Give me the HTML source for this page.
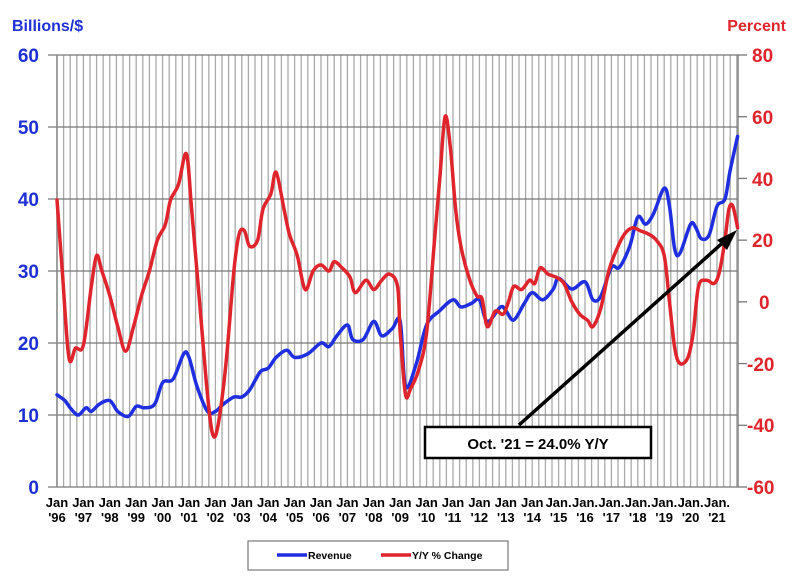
<!DOCTYPE html>
<html><head><style>
body{margin:0;background:#fff;}
svg text{font-family:"Liberation Sans",Arial,sans-serif;font-weight:bold;}
</style></head><body>
<svg id="s" width="800" height="577" xmlns="http://www.w3.org/2000/svg">
<g id="grid"></g>
<text x="12" y="31" font-size="16" fill="#1f2fd6">Billions/$</text>
<text x="786" y="31" font-size="16" fill="#e0242c" text-anchor="end">Percent</text>
<g font-size="19" fill="#1f2fd6" text-anchor="end">
<text x="39" y="62">60</text><text x="39" y="134">50</text><text x="39" y="206">40</text><text x="39" y="278">30</text><text x="39" y="350">20</text><text x="39" y="422">10</text><text x="39" y="494">0</text>
</g>
<g font-size="19" fill="#e0242c" text-anchor="start">
<text x="752" y="62">80</text><text x="752" y="124">60</text><text x="752" y="186">40</text><text x="752" y="247">20</text><text x="759" y="309">0</text><text x="747" y="371">-20</text><text x="747" y="432">-40</text><text x="747" y="494">-60</text>
</g>
<g id="xl" font-size="13" fill="#000" text-anchor="middle"></g>
<path id="blue" fill="none" stroke="#1f2fe0" stroke-width="3.5" stroke-linejoin="round" stroke-linecap="round"/>
<path id="red" fill="none" stroke="#e0242c" stroke-width="3.5" stroke-linejoin="round" stroke-linecap="round"/>
<line x1="519" y1="425" x2="728" y2="238" stroke="#000" stroke-width="3.5"/>
<polygon points="737,230 717,240 727,250" fill="#000"/>
<rect x="425" y="427" width="226" height="31" fill="#fff" stroke="#000" stroke-width="2.5"/>
<text x="538" y="449" font-size="15" text-anchor="middle">Oct. '21 = 24.0% Y/Y</text>
<rect x="248" y="541" width="260" height="29" fill="#fff" stroke="#777" stroke-width="1.2"/>
<line x1="277" y1="555" x2="307" y2="555" stroke="#1f2fe0" stroke-width="3.5"/>
<text x="308" y="559" font-size="10.5">Revenue</text>
<line x1="381" y1="555" x2="411" y2="555" stroke="#e0242c" stroke-width="3.5"/>
<text x="412" y="559" font-size="10.5">Y/Y % Change</text>
</svg>
<script>
function X(t){return 57+(t-1996)*26.4;}
function YL(v){return 487-v*7.2;}
function YR(p){return 55+(80-p)*3.0857;}
var g=document.getElementById('grid'),h='';
for(var i=0;i<=103;i++){var x=57+i*6.6;if(x>738)break;h+='<line x1="'+x+'" y1="55" x2="'+x+'" y2="487" stroke="#aaa" stroke-width="1.3"/>';}
for(var v=0;v<=60;v+=10){h+='<line x1="48" y1="'+YL(v)+'" x2="738" y2="'+YL(v)+'" stroke="#777" stroke-width="1.3"/>';}
h+='<line x1="57" y1="55" x2="57" y2="487" stroke="#888" stroke-width="1.5"/>';
h+='<line x1="738" y1="55" x2="738" y2="487" stroke="#888" stroke-width="1.5"/>';
for(var p=-60;p<=80;p+=20){h+='<line x1="738" y1="'+YR(p)+'" x2="747" y2="'+YR(p)+'" stroke="#777" stroke-width="1.3"/>';}
g.innerHTML=h;
var xl='';
for(var y=1996;y<=2021;y++){var lab=(y>=2015?'Jan.':'Jan'),yy="'"+String(y%100).padStart(2,'0');
xl+='<text x="'+X(y)+'" y="507">'+lab+'</text><text x="'+X(y)+'" y="522">'+yy+'</text>';}
document.getElementById('xl').innerHTML=xl;
var B=[[1996,12.8],[1996.3,12],[1996.5,11],[1996.8,10],[1997.1,11],[1997.3,10.5],[1997.6,11.5],[1998,12],[1998.3,10.5],[1998.7,9.8],[1999,11.2],[1999.3,11],[1999.7,11.5],[2000,14.5],[2000.4,15],[2000.8,18.5],[2001,18],[2001.3,14],[2001.7,10.5],[2002,10.5],[2002.3,11.5],[2002.7,12.5],[2003,12.5],[2003.3,13.5],[2003.7,16],[2004,16.5],[2004.3,18],[2004.7,19],[2005,18],[2005.5,18.5],[2006,20],[2006.3,19.5],[2006.6,21],[2007,22.5],[2007.2,20.5],[2007.6,20.5],[2008,23],[2008.3,21],[2008.7,22],[2009,23],[2009.2,14],[2009.6,17],[2010,22.5],[2010.5,24.5],[2011,26],[2011.3,25],[2011.7,25.5],[2012,26],[2012.3,23],[2012.8,25],[2013,24.5],[2013.3,23.2],[2013.7,25.5],[2014,27],[2014.4,26],[2014.8,27.5],[2015,29],[2015.5,27.5],[2016,28.5],[2016.3,26],[2016.6,26.5],[2017,30.5],[2017.3,30.5],[2017.7,33.5],[2018,37.5],[2018.3,36.5],[2018.6,38],[2019,41.5],[2019.2,39],[2019.4,33],[2019.6,32.5],[2020,36.5],[2020.2,36],[2020.4,34.5],[2020.7,35],[2021,39],[2021.3,40],[2021.5,44],[2021.78,48.7]];
var R=[[1996,33],[1996.2,10],[1996.45,-18],[1996.7,-15],[1997,-14],[1997.3,5],[1997.5,15],[1997.7,10],[1998,2],[1998.3,-8],[1998.6,-16],[1998.9,-8],[1999.2,2],[1999.5,10],[1999.8,20],[2000.1,25],[2000.3,33],[2000.6,38],[2000.9,48],[2001.1,30],[2001.4,0],[2001.7,-30],[2001.9,-43],[2002.1,-40],[2002.4,-20],[2002.7,10],[2002.9,22],[2003.1,23],[2003.3,18],[2003.6,20],[2003.8,30],[2004.1,35],[2004.3,42],[2004.6,30],[2004.8,22],[2005.1,15],[2005.4,4],[2005.7,10],[2006,12],[2006.3,10],[2006.5,13],[2006.8,11],[2007.1,8],[2007.3,3],[2007.7,7],[2008,4],[2008.3,7],[2008.6,9],[2008.9,5],[2009,-10],[2009.2,-30],[2009.4,-28],[2009.7,-22],[2010,-10],[2010.3,20],[2010.5,40],[2010.7,60],[2010.9,50],[2011.1,30],[2011.3,18],[2011.6,8],[2011.9,2],[2012.1,1],[2012.3,-8],[2012.6,-3],[2012.9,-4],[2013.1,0],[2013.3,5],[2013.6,4],[2013.9,7],[2014.1,6],[2014.3,11],[2014.6,9],[2014.9,8],[2015.2,6],[2015.5,0],[2015.8,-4],[2016.1,-6],[2016.3,-8],[2016.6,-2],[2016.9,10],[2017.2,17],[2017.5,22],[2017.8,24],[2018.1,23],[2018.4,22],[2018.7,20],[2019,15],[2019.2,0],[2019.4,-15],[2019.6,-20],[2019.9,-18],[2020.1,-10],[2020.3,5],[2020.6,7],[2020.9,6],[2021.1,10],[2021.3,20],[2021.45,30],[2021.6,31],[2021.78,24]];
function smooth(P){var d='M'+P[0][0]+','+P[0][1];
for(var i=0;i<P.length-1;i++){var p0=P[Math.max(0,i-1)],p1=P[i],p2=P[i+1],p3=P[Math.min(P.length-1,i+2)];
var c1x=p1[0]+(p2[0]-p0[0])/6,c1y=p1[1]+(p2[1]-p0[1])/6,c2x=p2[0]-(p3[0]-p1[0])/6,c2y=p2[1]-(p3[1]-p1[1])/6;
d+=' C'+c1x+','+c1y+' '+c2x+','+c2y+' '+p2[0]+','+p2[1];}return d;}
document.getElementById('blue').setAttribute('d',smooth(B.map(function(a){return [X(a[0]),YL(a[1])];})));
document.getElementById('red').setAttribute('d',smooth(R.map(function(a){return [X(a[0]),YR(a[1])];})));
</script>
</body></html>
